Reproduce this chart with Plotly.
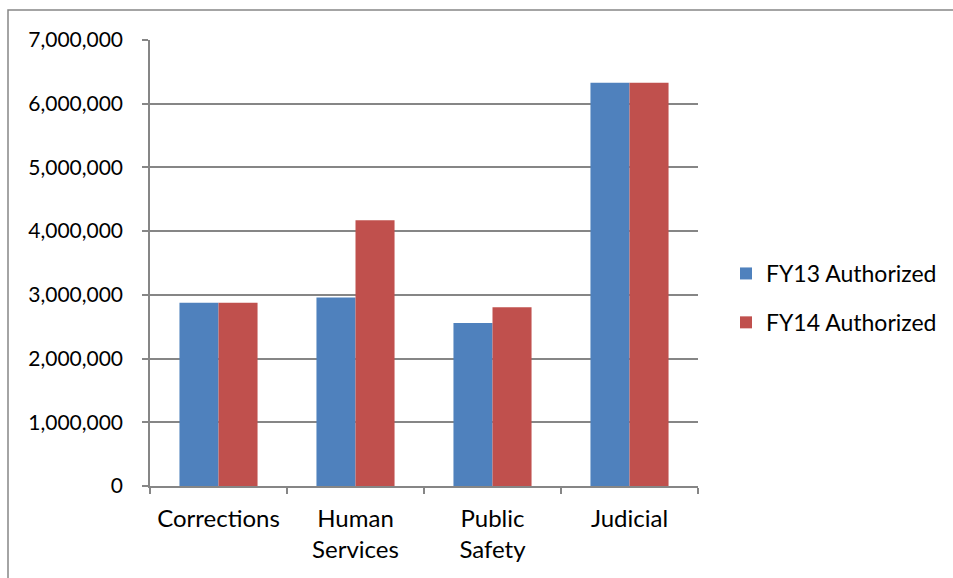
import plotly.graph_objects as go

categories = ["Corrections", "Human<br>Services", "Public<br>Safety", "Judicial"]
fy13_authorized = [2877000, 2960000, 2560000, 6330000]
fy14_authorized = [2877000, 4170000, 2805000, 6330000]
y_tick_values = [0, 1000000, 2000000, 3000000, 4000000, 5000000, 6000000, 7000000]
y_tick_labels = ["0", "1,000,000", "2,000,000", "3,000,000", "4,000,000",
                 "5,000,000", "6,000,000", "7,000,000"]

FONT = "Lato"
AXIS_GREY = "#868686"

fig = go.Figure()
fig.add_trace(go.Bar(name="FY13 Authorized", x=categories, y=fy13_authorized,
                     marker=dict(color="#4F81BD", line=dict(width=0)),
                     legendgroup="a"))
fig.add_trace(go.Bar(name="FY14 Authorized", x=categories, y=fy14_authorized,
                     marker=dict(color="#C0504D", line=dict(width=0)),
                     legendgroup="b"))

W, H = 953, 578
L, R, T, B = 150, 255, 40, 92
pw, ph = W - L - R, H - T - B

fig.update_layout(
    width=W, height=H,
    margin=dict(l=L, r=R, t=T, b=B, pad=0, autoexpand=False),
    paper_bgcolor="white", plot_bgcolor="white",
    font=dict(family=FONT, size=21, color="black"),
    barmode="group", bargap=0.43, bargroupgap=0,
    showlegend=True,
    legend=dict(x=(726 - L) / pw, y=(H - 252 - B) / ph, xanchor="left", yanchor="top",
                font=dict(family=FONT, size=23), tracegroupgap=16,
                traceorder="grouped", itemwidth=30,
                bgcolor="rgba(0,0,0,0)"),
    xaxis=dict(showline=True, linecolor=AXIS_GREY, linewidth=1.5,
               ticks="outside", ticklen=6, tickcolor=AXIS_GREY, tickwidth=1.5,
               tickson="boundaries", showgrid=False, ticklabelstandoff=10,
               tickfont=dict(family=FONT, size=24)),
    yaxis=dict(range=[0, 7000000], tickvals=y_tick_values, ticktext=y_tick_labels,
               showline=True, linecolor=AXIS_GREY, linewidth=1.5,
               ticks="outside", ticklen=6, tickcolor=AXIS_GREY, tickwidth=1.5,
               showgrid=True, gridcolor=AXIS_GREY, gridwidth=1.5,
               zeroline=False, ticklabelstandoff=15),
    shapes=[dict(type="rect", xref="paper", yref="paper",
                 x0=(8 - L) / pw, x1=(W + 20 - L) / pw,
                 y0=(H - (H + 20) - B) / ph, y1=(H - 10 - B) / ph,
                 line=dict(color=AXIS_GREY, width=1.5), fillcolor="rgba(0,0,0,0)",
                 layer="below")],
)

fig.write_html("out.html")
